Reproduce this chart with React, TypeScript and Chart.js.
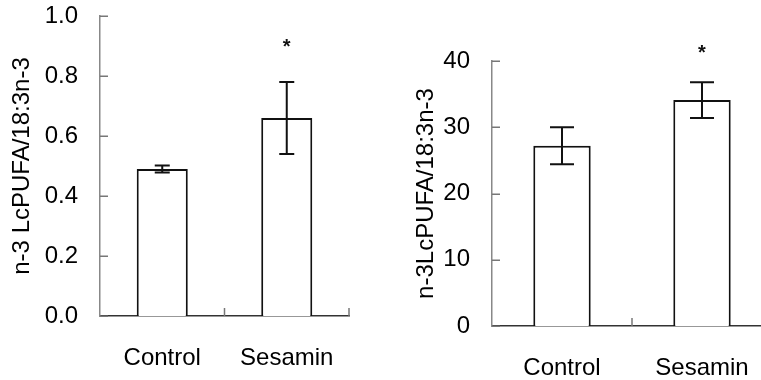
import React, { useEffect, useRef } from "react";
import { Chart, registerables } from "chart.js";

Chart.register(...registerables);

const categories = ["Control", "Sesamin"];

const leftValues = [0.49, 0.66];
const leftErrors = [0.012, 0.12];
const leftStars: (number | null)[] = [null, 0.895];
const leftTicks = [0, 0.2, 0.4, 0.6, 0.8, 1.0];
const leftTitle = "n-3 LcPUFA/18:3n-3";

const rightValues = [27.2, 34.1];
const rightErrors = [2.8, 2.7];
const rightStars: (number | null)[] = [null, 41.1];
const rightTicks = [0, 10, 20, 30, 40];
const rightTitle = "n-3LcPUFA/18:3n-3";

const FONT = "'Liberation Sans', Arial, Helvetica, sans-serif";

const decorPlugin = {
  id: "decor",
  afterDatasetsDraw(chart: any, _args: any, o: any) {
    const ctx = chart.ctx;
    const xs = chart.scales.x;
    const ys = chart.scales.y;
    const area = chart.chartArea;
    ctx.save();
    // inward y ticks
    ctx.strokeStyle = o.axisColor;
    ctx.lineWidth = 1.5;
    ys.ticks.forEach((t: any) => {
      const py = Math.round(ys.getPixelForValue(t.value)) + 0.25;
      ctx.beginPath();
      ctx.moveTo(area.left, py);
      ctx.lineTo(area.left + 8, py);
      ctx.stroke();
    });
    // inward x ticks at category boundaries
    const w = xs.getPixelForValue(1) - xs.getPixelForValue(0);
    for (let i = 0; i < categories.length; i++) {
      const px = xs.getPixelForValue(i) + w / 2;
      ctx.beginPath();
      ctx.moveTo(px, area.bottom);
      ctx.lineTo(px, area.bottom - 8);
      ctx.stroke();
    }
    // error bars
    const vals: number[] = o.values;
    const errs: number[] = o.errors;
    ctx.strokeStyle = "#111";
    ctx.lineWidth = 2;
    const cap = o.cap / 2;
    vals.forEach((v, i) => {
      const cx = xs.getPixelForValue(i);
      const top = ys.getPixelForValue(v + errs[i]);
      const bot = ys.getPixelForValue(v - errs[i]);
      ctx.beginPath();
      ctx.moveTo(cx, top);
      ctx.lineTo(cx, bot);
      ctx.moveTo(cx - cap, top);
      ctx.lineTo(cx + cap, top);
      ctx.moveTo(cx - cap, bot);
      ctx.lineTo(cx + cap, bot);
      ctx.stroke();
    });
    // significance stars
    ctx.fillStyle = "#111";
    ctx.font = `bold 20px ${FONT}`;
    ctx.textAlign = "center";
    ctx.textBaseline = "middle";
    (o.stars as (number | null)[]).forEach((s, i) => {
      if (s == null) return;
      ctx.fillText("*", xs.getPixelForValue(i), ys.getPixelForValue(s));
    });
    ctx.restore();
  },
};

function makeConfig(p: {
  values: number[];
  errors: number[];
  stars: (number | null)[];
  ticks: number[];
  title: string;
  decimals: number;
  padTop: number;
  padRight: number;
  yWidth: number;
  xHeight: number;
  titlePad: number;
  cap: number;
}): any {
  const min = p.ticks[0];
  const max = p.ticks[p.ticks.length - 1];
  return {
    type: "bar",
    data: {
      labels: categories,
      datasets: [
        {
          data: p.values,
          backgroundColor: "#ffffff",
          borderColor: "#111111",
          borderWidth: 2,
          barPercentage: 0.41,
          categoryPercentage: 1,
        },
      ],
    },
    options: {
      responsive: false,
      animation: false,
      events: [],
      layout: { padding: { top: p.padTop, right: p.padRight, left: 0, bottom: 0 } },
      plugins: {
        legend: { display: false },
        tooltip: { enabled: false },
        decor: {
          axisColor: "#777",
          values: p.values,
          errors: p.errors,
          stars: p.stars,
          cap: p.cap,
        },
      },
      scales: {
        x: {
          offset: true,
          grid: { display: false, drawTicks: false },
          border: { display: true, color: "#333", width: 1.5 },
          ticks: {
            padding: 28,
            color: "#000",
            font: { family: FONT, size: 24 },
            maxRotation: 0,
          },
          afterFit: (s: any) => {
            s.height = p.xHeight;
            s.paddingLeft = 0;
            s.paddingRight = 0;
          },
        },
        y: {
          min,
          max,
          grid: { display: false, drawTicks: false },
          border: { display: true, color: "#888", width: 1.5 },
          afterBuildTicks: (s: any) => {
            s.ticks = p.ticks.map((v) => ({ value: v }));
          },
          ticks: {
            padding: 22,
            color: "#000",
            font: { family: FONT, size: 24 },
            callback: (v: any) => Number(v).toFixed(p.decimals),
          },
          title: {
            display: true,
            text: p.title,
            color: "#000",
            font: { family: FONT, size: 24 },
            padding: { top: p.titlePad, bottom: 0 },
          },
          afterFit: (s: any) => {
            s.width = p.yWidth;
            s.paddingTop = 0;
            s.paddingBottom = 0;
          },
        },
      },
    },
    plugins: [decorPlugin],
  };
}

function BarChart(props: { config: any; width: number; height: number; left: number }) {
  const ref = useRef<HTMLCanvasElement>(null);
  useEffect(() => {
    if (!ref.current) return;
    const chart = new Chart(ref.current, props.config);
    return () => chart.destroy();
  }, []);
  return (
    <canvas
      ref={ref}
      width={props.width}
      height={props.height}
      style={{ position: "absolute", left: props.left, top: 0, width: props.width, height: props.height }}
    />
  );
}

export default function App() {
  const leftConfig = makeConfig({
    values: leftValues,
    errors: leftErrors,
    stars: leftStars,
    ticks: leftTicks,
    title: leftTitle,
    decimals: 1,
    padTop: 16,
    padRight: 31,
    yWidth: 100,
    xHeight: 64,
    titlePad: 8,
    cap: 15,
  });
  const rightConfig = makeConfig({
    values: rightValues,
    errors: rightErrors,
    stars: rightStars,
    ticks: rightTicks,
    title: rightTitle,
    decimals: 0,
    padTop: 61,
    padRight: 8,
    yWidth: 112,
    xHeight: 54,
    titlePad: 32,
    cap: 24,
  });
  return (
    <div
      style={{
        position: "absolute",
        left: 0,
        top: 0,
        width: 761,
        height: 380,
        overflow: "hidden",
        background: "#fff",
      }}
    >
      <BarChart config={leftConfig} width={380} height={380} left={0} />
      <BarChart config={rightConfig} width={400} height={380} left={380} />
    </div>
  );
}
